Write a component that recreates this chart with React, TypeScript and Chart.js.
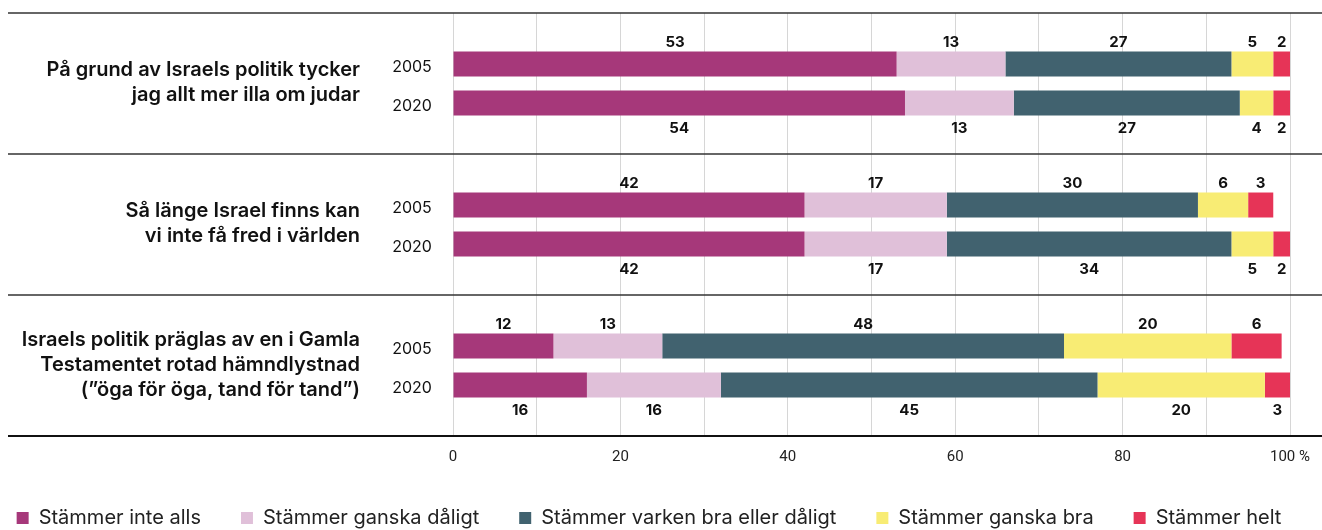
import React, { useEffect, useRef } from 'react';
import { Chart, registerables } from 'chart.js';
Chart.register(...registerables);

const questions: string[][] = [
  ['På grund av Israels politik tycker', 'jag allt mer illa om judar'],
  ['Så länge Israel finns kan', 'vi inte få fred i världen'],
  ['Israels politik präglas av en i Gamla', 'Testamentet rotad hämndlystnad', '(”öga för öga, tand för tand”)'],
];
const years = ['2005', '2020'];
const responses = [
  'Stämmer inte alls',
  'Stämmer ganska dåligt',
  'Stämmer varken bra eller dåligt',
  'Stämmer ganska bra',
  'Stämmer helt',
];
const colors = ['#A6387A', '#E0C0D9', '#41626F', '#F8EC74', '#E63457'];

const inteAlls2005 = [53, 42, 12];
const ganskaDaligt2005 = [13, 17, 13];
const varken2005 = [27, 30, 48];
const ganskaBra2005 = [5, 6, 20];
const helt2005 = [2, 3, 6];

const inteAlls2020 = [54, 42, 16];
const ganskaDaligt2020 = [13, 17, 16];
const varken2020 = [27, 34, 45];
const ganskaBra2020 = [4, 5, 20];
const helt2020 = [2, 2, 3];

const series2005 = [inteAlls2005, ganskaDaligt2005, varken2005, ganskaBra2005, helt2005];
const series2020 = [inteAlls2020, ganskaDaligt2020, varken2020, ganskaBra2020, helt2020];

const FONT = 'Inter';

// layout paddings (negative so the legend row may use the full canvas width)
const PAD_LEFT = -54;
const PAD_RIGHT = -30;

const separatorPlugin = {
  id: 'separators',
  beforeDatasetsDraw(chart: any) {
    const { ctx, chartArea } = chart;
    const n = questions.length;
    const h = (chartArea.bottom - chartArea.top) / n;
    ctx.save();
    for (let i = 0; i <= n; i++) {
      const y = chartArea.top + i * h;
      ctx.beginPath();
      ctx.lineWidth = i === n ? 2 : 1.5;
      ctx.strokeStyle = i === n ? '#111' : '#333';
      ctx.moveTo(8, y);
      ctx.lineTo(chart.width, y);
      ctx.stroke();
    }
    ctx.restore();
  },
};

const questionLabelPlugin = {
  id: 'questionLabels',
  afterDraw(chart: any) {
    const { ctx, chartArea } = chart;
    const yScale = chart.scales.y;
    const lh = 25;
    ctx.save();
    ctx.font = `600 20px ${FONT}`;
    ctx.fillStyle = '#111';
    ctx.textAlign = 'right';
    ctx.textBaseline = 'alphabetic';
    questions.forEach((lines, i) => {
      const cy = yScale.getPixelForValue(i);
      const first = cy - ((lines.length - 1) * lh) / 2 + 5;
      lines.forEach((line, k) => {
        ctx.fillText(line, chartArea.left - 93, first + k * lh);
      });
    });
    ctx.restore();
  },
};

const yearPlugin = {
  id: 'years',
  afterDraw(chart: any) {
    const { ctx, chartArea } = chart;
    ctx.save();
    ctx.font = `16px ${FONT}`;
    ctx.fillStyle = '#111';
    ctx.textAlign = 'center';
    ctx.textBaseline = 'alphabetic';
    const metas = [chart.getDatasetMeta(0), chart.getDatasetMeta(responses.length)];
    questions.forEach((_, i) => {
      metas.forEach((m, k) => {
        const el = m.data[i];
        ctx.fillText(years[k], chartArea.left - 41, el.y + 8);
      });
    });
    ctx.restore();
  },
};

const dataLabelPlugin = {
  id: 'dataLabels',
  afterDatasetsDraw(chart: any) {
    const { ctx } = chart;
    ctx.save();
    ctx.font = `bold 15px ${FONT}`;
    ctx.fillStyle = '#111';
    ctx.textAlign = 'center';
    ctx.textBaseline = 'alphabetic';
    chart.data.datasets.forEach((ds: any, di: number) => {
      const meta = chart.getDatasetMeta(di);
      meta.data.forEach((el: any, i: number) => {
        const v = ds.data[i];
        const { x, y, base, height } = el.getProps(['x', 'y', 'base', 'height'], true);
        const cx = (x + base) / 2;
        const ty = ds.stack === years[0] ? y - height / 2 - 5 : y + height / 2 + 18;
        ctx.fillText(String(v), cx, ty);
      });
    });
    ctx.restore();
  },
};

export default function App() {
  const ref = useRef<HTMLCanvasElement>(null);
  useEffect(() => {
    document.body.style.margin = '0';
    document.body.style.overflow = 'hidden';
    const datasets: any[] = [];
    [series2005, series2020].forEach((series, yi) => {
      series.forEach((vals, ri) => {
        datasets.push({
          label: responses[ri],
          data: vals,
          backgroundColor: colors[ri],
          borderWidth: 0,
          stack: years[yi],
          categoryPercentage: 0.553,
          barPercentage: 0.641,
        });
      });
    });
    const chart = new Chart(ref.current!, {
      type: 'bar',
      data: { labels: questions.map((q) => q.join(' ')), datasets },
      plugins: [separatorPlugin, questionLabelPlugin, yearPlugin, dataLabelPlugin],
      options: {
        indexAxis: 'y',
        responsive: false,
        animation: false,
        layout: { padding: { top: 13, right: PAD_RIGHT, bottom: -8, left: PAD_LEFT } },
        plugins: {
          tooltip: { enabled: false },
          legend: {
            position: 'bottom',
            align: 'center',
            labels: {
              filter: (item: any) => item.datasetIndex < responses.length,
              boxWidth: 12,
              boxHeight: 12,
              padding: 40,
              color: '#222',
              font: { family: FONT, size: 20 },
            },
          },
        },
        scales: {
          x: {
            stacked: true,
            min: 0,
            max: 100,
            grid: { color: '#d6d6d6', lineWidth: 1, drawTicks: false },
            border: { display: false },
            ticks: {
              stepSize: 10,
              autoSkip: false,
              maxRotation: 0,
              padding: 12,
              color: '#222',
              font: { family: 'Roboto', size: 15 },
              callback: (v: any) => (v === 100 ? '100 %' : v % 20 === 0 ? String(v) : ''),
            },
            afterFit: (s: any) => {
              s.height = 32;
            },
          },
          y: {
            stacked: true,
            grid: { display: false, drawTicks: false },
            border: { display: false },
            ticks: { display: false },
            afterFit: (s: any) => {
              s.width = 453 - PAD_LEFT;
            },
          },
          yRight: {
            type: 'linear',
            position: 'right',
            display: true,
            grid: { display: false, drawTicks: false },
            border: { display: false },
            ticks: { display: false },
            afterFit: (s: any) => {
              s.width = 29 - PAD_RIGHT;
            },
          },
        },
      },
    });
    return () => chart.destroy();
  }, []);
  return (
    <div style={{ width: 1322, height: 530 }}>
      <canvas ref={ref} width={1322} height={530} style={{ display: 'block' }} />
    </div>
  );
}
